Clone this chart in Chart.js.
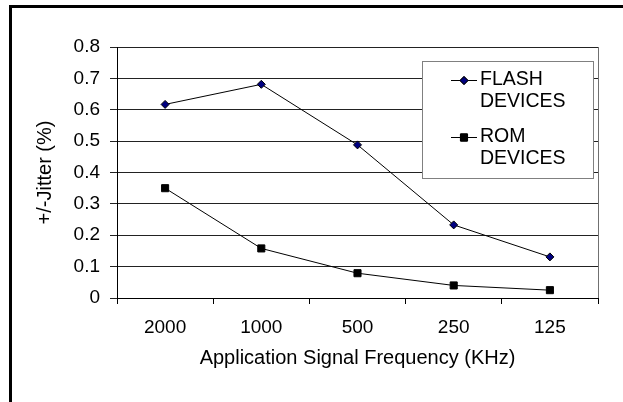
<!DOCTYPE html>
<html>
<head>
<meta charset="utf-8">
<script src="https://cdn.jsdelivr.net/npm/chart.js@4/dist/chart.umd.min.js"></script>
<style>
    html, body { margin: 0; padding: 0; background: #fff; }
    #wrap { position: relative; width: 623px; height: 402px; overflow: hidden; }
    #frame {
        position: absolute; left: 9px; top: 5px; right: 0; bottom: -10px;
        border-left: 3px solid #000; border-top: 3px solid #000;
    }
    canvas { position: absolute; left: 0; top: 0; }
</style>
</head>
<body>
<div id="wrap">
    <div id="frame"></div>
    <canvas id="jitterChart" width="623" height="402"></canvas>
</div>
<script>
// chart data
const frequencies = ['2000', '1000', '500', '250', '125'];
const seriesNames = ['FLASH DEVICES', 'ROM DEVICES'];
const flashJitter = [0.617, 0.681, 0.488, 0.233, 0.131];
const romJitter = [0.35, 0.158, 0.079, 0.04, 0.025];
const yTicks = [0, 0.1, 0.2, 0.3, 0.4, 0.5, 0.6, 0.7, 0.8];

const FONT = "'Liberation Sans', Arial, sans-serif";

//legend box drawn inside the plot, like the original
const boxLegend = {
    id: 'boxLegend',
    afterDraw(chart) {
        const ctx = chart.ctx;
        const box = { x: 422, y: 61, w: 171, h: 117 };
        ctx.save();
        ctx.fillStyle = '#fff';
        ctx.fillRect(box.x, box.y, box.w, box.h);
        ctx.strokeStyle = '#808080';
        ctx.lineWidth = 1;
        ctx.strokeRect(box.x + 0.5, box.y + 0.5, box.w, box.h);

        ctx.font = '19.5px ' + FONT;
        ctx.fillStyle = '#000';
        ctx.textBaseline = 'middle';
        const rows = [80, 137];
        chart.data.datasets.forEach((ds, i) => {
            const y = rows[i];
            ctx.strokeStyle = ds.borderColor;
            ctx.lineWidth = 1;
            ctx.beginPath();
            ctx.moveTo(451, y + 0.5);
            ctx.lineTo(477, y + 0.5);
            ctx.stroke();
            Chart.helpers.drawPoint(ctx, {
                pointStyle: ds.pointStyle,
                radius: ds.pointRadius,
                borderWidth: 1
            }, 464, y + 0.5);
            ctx.fillStyle = ds.pointBackgroundColor;
            ctx.strokeStyle = ds.pointBorderColor;
            ctx.fill();
            ctx.stroke();
            ctx.fillStyle = '#000';
            ds.label.split(' ').forEach((line, j) => {
                ctx.fillText(line, 480, y + j * 22);
            });
        });
        ctx.restore();
    }
};

// thin grey border on the right of the plot
const plotBorder = {
    id: 'plotBorder',
    beforeDatasetsDraw(chart) {
        const { ctx, chartArea } = chart;
        ctx.save();
        ctx.strokeStyle = '#707070';
        ctx.lineWidth = 1;
        ctx.beginPath();
        ctx.moveTo(Math.round(chartArea.right) + 0.5, chartArea.top);
        ctx.lineTo(Math.round(chartArea.right) + 0.5, chartArea.bottom);
        ctx.stroke();
        ctx.restore();
    }
};

const ctx = document.getElementById('jitterChart').getContext('2d');

new Chart(ctx, {
    type: 'line',
    data: {
        labels: frequencies,
        datasets: [{
            label: seriesNames[0],
            data: flashJitter,
            borderColor: '#000',
            borderWidth: 1,
            pointStyle: 'rectRot',
            pointRadius: 4,
            pointBackgroundColor: '#000080',
            pointBorderColor: '#000',
            pointBorderWidth: 1,
            tension: 0
        }, {
            label: seriesNames[1],
            data: romJitter,
            borderColor: '#000',
            borderWidth: 1,
            pointStyle: 'rect',
            pointRadius: 5,
            pointBackgroundColor: '#000',
            pointBorderColor: '#000',
            pointBorderWidth: 1,
            tension: 0
        }]
    },
    options: {
        responsive: false,
        animation: false,
        layout: { padding: { left: 20, top: 47, right: 25, bottom: 0 } },
        plugins: {
            legend: { display: false },
            tooltip: { enabled: false }
        },
        scales: {
            x: {
                offset: true,
                grid: {
                    offset: true,
                    drawOnChartArea: false,
                    color: '#000',
                    tickLength: 6
                },
                border: { color: '#000' },
                ticks: {
                    color: '#000',
                    padding: 12,
                    maxRotation: 0,
                    font: { family: FONT, size: 19 }
                },
                title: {
                    display: true,
                    text: 'Application Signal Frequency (KHz)',
                    color: '#000',
                    font: { family: FONT, size: 20 },
                    padding: { top: 0, bottom: 32 }
                },
                afterFit(scale) { scale.height = 104; }
            },
            y: {
                min: 0,
                max: 0.8,
                afterBuildTicks(scale) {
                    scale.ticks = yTicks.map(v => ({ value: v }));
                },
                grid: {
                    color: '#222',
                    tickLength: 7
                },
                border: { color: '#000' },
                ticks: {
                    color: '#000',
                    padding: 10,
                    font: { family: FONT, size: 19 },
                    callback: function(value) {
                        return value === 0 ? '0' : Number(value).toFixed(1);
                    }
                },
                title: {
                    display: true,
                    text: '+/-Jitter (%)',
                    color: '#000',
                    font: { family: FONT, size: 20 },
                    padding: { top: 13, bottom: 0 }
                },
                afterFit(scale) { scale.width = 97; }
            }
        }
    },
    plugins: [plotBorder, boxLegend]
});
</script>
</body>
</html>
